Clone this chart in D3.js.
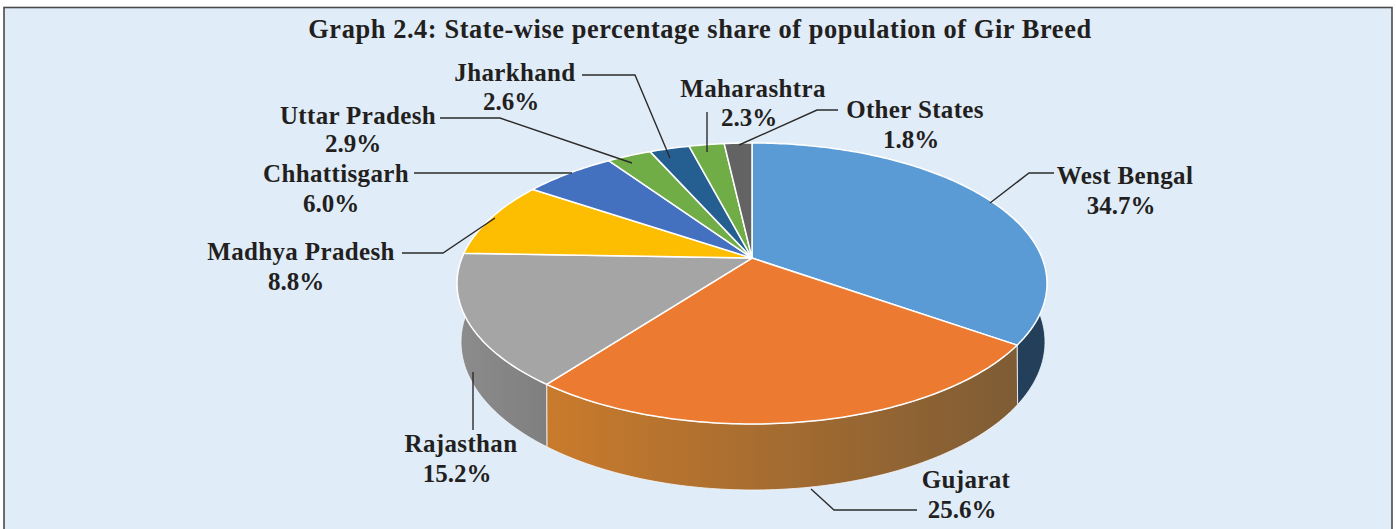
<!DOCTYPE html>
<html><head><meta charset="utf-8">
<script src="https://cdn.jsdelivr.net/npm/d3@7"></script>
<style>html,body{margin:0;padding:0;background:#fff}svg{display:block}
text{font-family:"Liberation Serif",serif;font-weight:700;fill:#231f20;text-anchor:middle}</style>
</head><body><svg id="c" width="1396" height="529"></svg>
<script>
const titleText = "Graph 2.4: State-wise percentage share of population of Gir Breed";
const states = ["West Bengal","Gujarat","Rajasthan","Madhya Pradesh","Chhattisgarh","Uttar Pradesh","Jharkhand","Maharashtra","Other States"];
const shares = [34.7,25.6,15.2,8.8,6.0,2.9,2.6,2.3,1.8];
const topColors = ["#5b9bd5","#ec7b31","#a5a5a5","#fdbd00","#4470c0","#70ad47","#255e91","#70ad47","#636363"];
const sideLeft = ["#243f5a","#c97b2c","#8c8c8c","#8e6e10","#2a4a80","#45702a","#173a5a","#45702a","#3c3c3c"];
const sideRight = ["#243f5a","#7e5c35","#7f7f7f","#8e6e10","#2a4a80","#45702a","#173a5a","#45702a","#3c3c3c"];
const nameX = [1125,966,461,301,336,358,515,753,915];
const valueX = [1121,962,457,296,331,353,511,749,911];
const nameY = [184,488,452,260,182,124,81,97,118];
const valueY = [214,518,482,290,212,152,110,126,148];
const leaders = [
 [[1054,173],[1029,173],[990,203]],
 [[917,510],[834,510],[811,489]],
 [[473,430],[473,372]],
 [[402,253],[443,253],[495,218]],
 [[414,173],[572,173]],
 [[440,118],[500,118],[632,163]],
 [[582,75],[635,75],[670,158]],
 [[707,112],[707,152]],
 [[838,110],[817,110],[739,145]]
];

const svg = d3.select("#c");
const W = 1396, H = 529;
svg.append("rect").attr("width",W).attr("height",H).attr("fill","#fff");
svg.append("rect").attr("x",4).attr("y",7.5).attr("width",W-8).attr("height",H).attr("fill","#e0ecf8").attr("stroke","#4a4a4a").attr("stroke-width",1.6);

svg.append("text").attr("x",700).attr("y",38).attr("font-size",26.4).attr("letter-spacing",0.58).text(titleText);

// d3.pie gives the angles; project() lays them on the tilted disc in perspective.
const topFace = {cx:752,cy:283.5,rx:295,ry:140.5,tilt:-0.181};
const baseFace = {cx:753,cy:342,rx:292,ry:148,tilt:-0.2};
function project(a, r, f){
  const u = r*Math.sin(a), v = -r*Math.cos(a);
  const d = 1 + f.tilt*v;
  return [f.cx + f.rx*u*Math.sqrt(1-f.tilt*f.tilt)/d, f.cy + f.ry*(v+f.tilt)/d];
}
const arcs = d3.pie().sort(null).startAngle(0).endAngle(2*Math.PI)(shares);
const line = d3.line();
function sweep(d, f){
  const n = Math.max(4, Math.ceil((d.endAngle-d.startAngle)*60));
  return d3.range(n+1).map(i => project(d.startAngle + (d.endAngle-d.startAngle)*i/n, 1, f));
}
const defs = svg.append("defs");
arcs.forEach((d,i)=>{
  const g = defs.append("linearGradient").attr("id","side"+i);
  g.append("stop").attr("offset","0%").attr("stop-color", sideLeft[i]);
  g.append("stop").attr("offset","100%").attr("stop-color", sideRight[i]);
});
svg.append("g").selectAll("path").data(arcs).join("path")
  .attr("d",(d)=>line(sweep(d,topFace).concat(sweep(d,baseFace).reverse()))+"Z")
  .attr("fill",(d,i)=>`url(#side${i})`)
  .attr("stroke","#f4f8fc").attr("stroke-width",0.8);
svg.append("g").selectAll("path").data(arcs).join("path")
  .attr("d",(d,i)=>line([project(0,0,topFace)].concat(sweep(d,topFace)))+"Z")
  .attr("fill",(d,i)=>topColors[i])
  .attr("stroke","#fff").attr("stroke-width",1.5).attr("stroke-linejoin","round");

svg.append("g").selectAll("path").data(leaders).join("path")
  .attr("d",d=>line(d)).attr("fill","none").attr("stroke","#2b2b2b").attr("stroke-width",1.4);

const labels = svg.append("g");
labels.selectAll("text.n").data(states).join("text").attr("class","n")
  .attr("x",(d,i)=>nameX[i]).attr("y",(d,i)=>nameY[i]).attr("font-size",25).attr("letter-spacing",0.35).text(d=>d);
labels.selectAll("text.v").data(shares).join("text").attr("class","v")
  .attr("x",(d,i)=>valueX[i]).attr("y",(d,i)=>valueY[i]).attr("font-size",25).text(d=>d.toFixed(1)+"%");
</script></body></html>
